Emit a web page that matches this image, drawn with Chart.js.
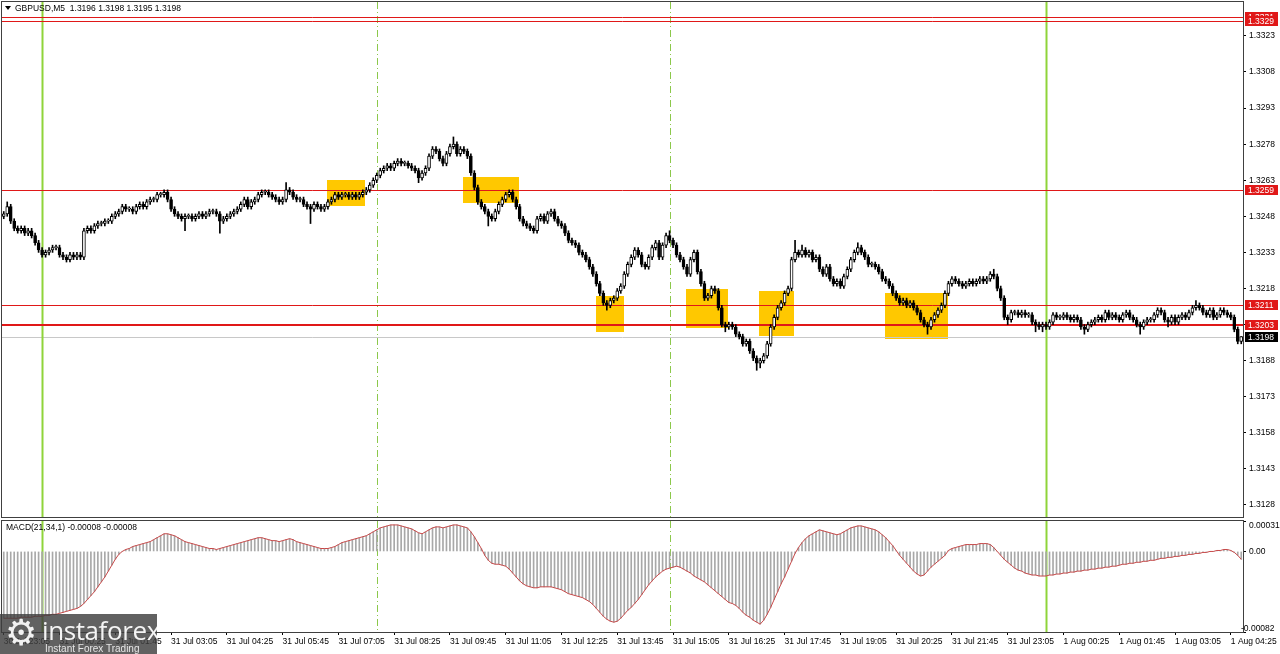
<!DOCTYPE html>
<html><head><meta charset="utf-8">
<script src="https://cdn.jsdelivr.net/npm/chart.js@4.4.1/dist/chart.umd.min.js"></script>
<style>
html,body{margin:0;padding:0;background:#fff;width:1280px;height:654px;overflow:hidden;font-family:"Liberation Sans",Arial,sans-serif}
#wrap{position:relative;width:1280px;height:654px}
#main{position:absolute;left:0;top:0}
#macd{position:absolute;left:0;top:519px}
#logo{position:absolute;left:0;top:614px;width:157px;height:40px;background:rgba(62,62,62,0.82);color:#fff;overflow:hidden}
#logo .gear{position:absolute;left:5px;top:-2px;font-family:"DejaVu Sans";font-size:36px;line-height:42px;color:#f2f2f2}
#logo .name{position:absolute;left:42px;top:2px;font-size:26px;line-height:28px;letter-spacing:-0.4px;color:#f4f4f4;font-family:"Open Sans","Liberation Sans",sans-serif}
#logo .sub{position:absolute;left:45px;top:29px;font-size:10px;line-height:11px;color:#e6e6e6}
</style></head>
<body><div id="wrap">
<canvas id="main" width="1280" height="519"></canvas>
<canvas id="macd" width="1280" height="135"></canvas>
<div id="logo"><span class="gear">⚙</span><span class="name">instaforex</span><span class="sub">Instant Forex Trading</span></div>
</div>
<script>
// ---------- DATA (GBPUSD M5, 30 Jul 23:05 ... 1 Aug 04:40) ----------
const opens = [
1.3248,1.3249,1.3252,1.3246,1.3243,1.3242,1.3243,1.3241,1.3242,1.3240,
1.3237,1.3234,1.3232,1.3233,1.3234,1.3235,1.3235,1.3232,1.3231,1.3230,
1.3232,1.3231,1.3232,1.3231,1.3242,1.3243,1.3242,1.3244,1.3245,1.3245,
1.3246,1.3246,1.3248,1.3249,1.3250,1.3252,1.3251,1.3251,1.3250,1.3252,
1.3253,1.3252,1.3254,1.3255,1.3255,1.3257,1.3257,1.3258,1.3255,1.3251,
1.3249,1.3248,1.3247,1.3248,1.3248,1.3247,1.3248,1.3249,1.3248,1.3249,
1.3250,1.3250,1.3249,1.3246,1.3247,1.3248,1.3249,1.3250,1.3251,1.3253,
1.3255,1.3252,1.3254,1.3255,1.3257,1.3258,1.3258,1.3257,1.3256,1.3255,
1.3254,1.3255,1.3259,1.3258,1.3256,1.3255,1.3255,1.3253,1.3252,1.3251,
1.3253,1.3252,1.3251,1.3252,1.3254,1.3255,1.3257,1.3256,1.3257,1.3257,
1.3256,1.3257,1.3256,1.3257,1.3258,1.3259,1.3261,1.3263,1.3265,1.3267,
1.3268,1.3269,1.3268,1.3270,1.3271,1.3270,1.3270,1.3269,1.3268,1.3267,
1.3264,1.3266,1.3268,1.3273,1.3276,1.3275,1.3272,1.3270,1.3274,1.3277,
1.3278,1.3274,1.3276,1.3275,1.3273,1.3266,1.3260,1.3254,1.3252,1.3250,
1.3248,1.3247,1.3250,1.3253,1.3255,1.3257,1.3258,1.3255,1.3252,1.3247,
1.3245,1.3244,1.3243,1.3242,1.3247,1.3248,1.3246,1.3249,1.3250,1.3247,
1.3245,1.3244,1.3241,1.3238,1.3237,1.3236,1.3233,1.3232,1.3230,1.3227,
1.3224,1.3220,1.3216,1.3212,1.3211,1.3213,1.3214,1.3217,1.3219,1.3224,
1.3228,1.3231,1.3234,1.3232,1.3228,1.3227,1.3231,1.3235,1.3237,1.3231,
1.3236,1.3240,1.3238,1.3236,1.3232,1.3230,1.3227,1.3224,1.3230,1.3233,
1.3225,1.3220,1.3214,1.3215,1.3218,1.3217,1.3210,1.3203,1.3202,1.3203,1.3202,
1.3199,1.3198,1.3195,1.3196,1.3192,1.3189,1.3187,1.3188,1.3190,1.3195,
1.3202,1.3206,1.3210,1.3212,1.3216,1.3218,1.3230,1.3233,1.3232,1.3234,
1.3232,1.3233,1.3230,1.3231,1.3226,1.3224,1.3227,1.3222,1.3220,1.3221,
1.3219,1.3223,1.3226,1.3230,1.3233,1.3235,1.3233,1.3231,1.3228,1.3228,
1.3227,1.3225,1.3222,1.3221,1.3219,1.3216,1.3214,1.3212,1.3213,1.3211,
1.3212,1.3210,1.3208,1.3205,1.3203,1.3202,1.3205,1.3207,1.3209,1.3211,
1.3216,1.3220,1.3222,1.3221,1.3220,1.3219,1.3220,1.3221,1.3220,1.3221,
1.3222,1.3221,1.3222,1.3224,1.3223,1.3218,1.3214,1.3206,1.3205,1.3208,
1.3208,1.3207,1.3208,1.3207,1.3207,1.3204,1.3203,1.3202,1.3203,1.3202,
1.3204,1.3207,1.3206,1.3206,1.3207,1.3206,1.3205,1.3206,1.3205,1.3202,
1.3201,1.3203,1.3204,1.3205,1.3206,1.3205,1.3208,1.3206,1.3207,1.3206,
1.3205,1.3207,1.3208,1.3206,1.3205,1.3203,1.3202,1.3204,1.3205,1.3205,
1.3207,1.3209,1.3208,1.3205,1.3204,1.3206,1.3204,1.3206,1.3207,1.3206,
1.3208,1.3210,1.3211,1.3210,1.3208,1.3207,1.3209,1.3206,1.3207,1.3209,
1.3208,1.3207,1.3206,1.3201,1.3196];

const highs = [
1.3250,1.3254,1.3253,1.3247,1.3244,1.3244,1.3244,1.3243,1.3243,1.3241,
1.3238,1.3235,1.3234,1.3235,1.3236,1.3236,1.3236,1.3233,1.3232,1.3233,
1.3233,1.3233,1.3233,1.3243,1.3244,1.3244,1.3245,1.3246,1.3246,1.3247,
1.3247,1.3249,1.3250,1.3251,1.3253,1.3253,1.3252,1.3252,1.3253,1.3254,
1.3254,1.3255,1.3256,1.3256,1.3258,1.3258,1.3259,1.3259,1.3256,1.3252,
1.3250,1.3249,1.3249,1.3249,1.3249,1.3249,1.3250,1.3250,1.3250,1.3251,
1.3251,1.3251,1.3250,1.3248,1.3249,1.3250,1.3251,1.3252,1.3254,1.3256,
1.3256,1.3255,1.3256,1.3258,1.3259,1.3259,1.3259,1.3258,1.3257,1.3256,
1.3256,1.3262,1.3260,1.3259,1.3257,1.3256,1.3256,1.3254,1.3253,1.3254,
1.3254,1.3253,1.3253,1.3255,1.3256,1.3258,1.3258,1.3258,1.3258,1.3258,
1.3258,1.3258,1.3258,1.3259,1.3260,1.3262,1.3264,1.3266,1.3268,1.3269,
1.3270,1.3270,1.3271,1.3272,1.3272,1.3271,1.3271,1.3270,1.3269,1.3268,
1.3267,1.3269,1.3274,1.3277,1.3277,1.3276,1.3273,1.3275,1.3278,1.3281,
1.3279,1.3277,1.3277,1.3276,1.3274,1.3267,1.3261,1.3255,1.3253,1.3251,
1.3249,1.3251,1.3254,1.3256,1.3258,1.3259,1.3259,1.3256,1.3253,1.3248,
1.3246,1.3245,1.3244,1.3248,1.3249,1.3249,1.3250,1.3251,1.3251,1.3248,
1.3246,1.3245,1.3242,1.3239,1.3238,1.3237,1.3234,1.3233,1.3231,1.3228,
1.3225,1.3221,1.3217,1.3213,1.3214,1.3215,1.3218,1.3220,1.3225,1.3229,
1.3232,1.3235,1.3235,1.3233,1.3229,1.3232,1.3236,1.3238,1.3238,1.3237,
1.3241,1.3242,1.3239,1.3237,1.3233,1.3231,1.3228,1.3231,1.3234,1.3234,
1.3226,1.3221,1.3216,1.3219,1.3219,1.3218,1.3211,1.3204,1.3204,1.3204,1.3203,
1.3200,1.3199,1.3197,1.3197,1.3193,1.3190,1.3189,1.3191,1.3196,1.3203,
1.3207,1.3211,1.3213,1.3217,1.3219,1.3231,1.3238,1.3234,1.3236,1.3235,
1.3234,1.3234,1.3232,1.3232,1.3227,1.3228,1.3228,1.3223,1.3222,1.3222,
1.3224,1.3227,1.3231,1.3234,1.3237,1.3236,1.3234,1.3232,1.3229,1.3229,
1.3228,1.3226,1.3223,1.3222,1.3220,1.3217,1.3215,1.3214,1.3214,1.3213,
1.3213,1.3211,1.3209,1.3206,1.3204,1.3206,1.3208,1.3210,1.3212,1.3217,
1.3221,1.3223,1.3223,1.3222,1.3221,1.3221,1.3222,1.3222,1.3222,1.3223,
1.3223,1.3223,1.3225,1.3226,1.3224,1.3219,1.3215,1.3207,1.3209,1.3209,
1.3209,1.3209,1.3209,1.3208,1.3208,1.3205,1.3204,1.3204,1.3204,1.3205,
1.3208,1.3208,1.3207,1.3208,1.3208,1.3207,1.3207,1.3207,1.3206,1.3203,
1.3204,1.3205,1.3206,1.3207,1.3207,1.3209,1.3209,1.3208,1.3208,1.3207,
1.3208,1.3209,1.3209,1.3207,1.3206,1.3204,1.3205,1.3206,1.3206,1.3208,
1.3210,1.3210,1.3209,1.3206,1.3207,1.3207,1.3207,1.3208,1.3208,1.3209,
1.3211,1.3213,1.3212,1.3211,1.3209,1.3210,1.3210,1.3208,1.3210,1.3210,
1.3209,1.3208,1.3207,1.3202,1.3198];

const lows = [
1.3247,1.3248,1.3245,1.3242,1.3241,1.3241,1.3240,1.3240,1.3239,1.3236,
1.3233,1.3231,1.3231,1.3232,1.3233,1.3234,1.3231,1.3230,1.3229,1.3229,
1.3230,1.3230,1.3230,1.3230,1.3241,1.3241,1.3241,1.3243,1.3244,1.3244,
1.3245,1.3245,1.3247,1.3248,1.3249,1.3250,1.3250,1.3249,1.3249,1.3251,
1.3251,1.3251,1.3253,1.3254,1.3254,1.3256,1.3256,1.3254,1.3250,1.3248,
1.3247,1.3246,1.3242,1.3247,1.3246,1.3246,1.3247,1.3247,1.3247,1.3248,
1.3249,1.3248,1.3241,1.3245,1.3246,1.3247,1.3248,1.3249,1.3250,1.3252,
1.3251,1.3251,1.3253,1.3254,1.3256,1.3257,1.3256,1.3255,1.3254,1.3253,
1.3253,1.3254,1.3257,1.3255,1.3254,1.3254,1.3252,1.3251,1.3245,1.3250,
1.3251,1.3250,1.3250,1.3251,1.3253,1.3254,1.3255,1.3255,1.3256,1.3255,
1.3255,1.3255,1.3255,1.3256,1.3257,1.3258,1.3260,1.3262,1.3264,1.3266,
1.3267,1.3267,1.3267,1.3269,1.3269,1.3269,1.3268,1.3267,1.3266,1.3262,
1.3263,1.3265,1.3267,1.3272,1.3274,1.3271,1.3269,1.3269,1.3273,1.3276,
1.3273,1.3273,1.3274,1.3272,1.3265,1.3259,1.3253,1.3251,1.3249,1.3244,
1.3246,1.3246,1.3249,1.3252,1.3254,1.3256,1.3254,1.3251,1.3246,1.3244,
1.3243,1.3242,1.3241,1.3241,1.3246,1.3245,1.3245,1.3248,1.3246,1.3244,
1.3243,1.3240,1.3237,1.3236,1.3235,1.3232,1.3231,1.3229,1.3226,1.3223,
1.3219,1.3215,1.3211,1.3209,1.3210,1.3212,1.3213,1.3216,1.3218,1.3223,
1.3227,1.3230,1.3231,1.3227,1.3226,1.3226,1.3230,1.3234,1.3230,1.3230,
1.3235,1.3237,1.3235,1.3231,1.3229,1.3226,1.3223,1.3223,1.3229,1.3224,
1.3219,1.3213,1.3213,1.3214,1.3216,1.3209,1.3202,1.3200,1.3201,1.3201,1.3198,
1.3197,1.3194,1.3194,1.3191,1.3188,1.3184,1.3185,1.3187,1.3189,1.3194,
1.3201,1.3205,1.3209,1.3211,1.3215,1.3217,1.3229,1.3231,1.3231,1.3231,
1.3231,1.3229,1.3229,1.3225,1.3223,1.3223,1.3221,1.3219,1.3219,1.3218,
1.3218,1.3222,1.3225,1.3229,1.3232,1.3232,1.3230,1.3227,1.3227,1.3226,
1.3224,1.3221,1.3220,1.3218,1.3215,1.3213,1.3211,1.3211,1.3210,1.3210,
1.3209,1.3207,1.3204,1.3202,1.3199,1.3201,1.3204,1.3206,1.3208,1.3210,
1.3215,1.3219,1.3220,1.3219,1.3218,1.3218,1.3219,1.3219,1.3219,1.3220,
1.3220,1.3220,1.3221,1.3222,1.3217,1.3213,1.3205,1.3203,1.3204,1.3207,
1.3206,1.3206,1.3206,1.3206,1.3203,1.3200,1.3201,1.3200,1.3201,1.3201,
1.3203,1.3205,1.3205,1.3205,1.3205,1.3204,1.3204,1.3204,1.3201,1.3199,
1.3200,1.3202,1.3203,1.3204,1.3204,1.3204,1.3205,1.3205,1.3205,1.3204,
1.3204,1.3206,1.3205,1.3204,1.3202,1.3199,1.3201,1.3203,1.3204,1.3204,
1.3206,1.3207,1.3204,1.3202,1.3203,1.3203,1.3203,1.3205,1.3205,1.3205,
1.3207,1.3209,1.3209,1.3207,1.3206,1.3206,1.3205,1.3205,1.3206,1.3207,
1.3206,1.3205,1.3200,1.3195,1.3195];

const closes = [
1.3249,1.3252,1.3246,1.3243,1.3242,1.3243,1.3241,1.3242,1.3240,1.3237,
1.3234,1.3232,1.3233,1.3234,1.3235,1.3235,1.3232,1.3231,1.3230,1.3232,
1.3231,1.3232,1.3231,1.3242,1.3243,1.3242,1.3244,1.3245,1.3245,1.3246,
1.3246,1.3248,1.3249,1.3250,1.3252,1.3251,1.3251,1.3250,1.3252,1.3253,
1.3252,1.3254,1.3255,1.3255,1.3257,1.3257,1.3258,1.3255,1.3251,1.3249,
1.3248,1.3247,1.3248,1.3248,1.3247,1.3248,1.3249,1.3248,1.3249,1.3250,
1.3250,1.3249,1.3246,1.3247,1.3248,1.3249,1.3250,1.3251,1.3253,1.3255,
1.3252,1.3254,1.3255,1.3257,1.3258,1.3258,1.3257,1.3256,1.3255,1.3254,
1.3255,1.3259,1.3258,1.3256,1.3255,1.3255,1.3253,1.3252,1.3251,1.3253,
1.3252,1.3251,1.3252,1.3254,1.3255,1.3257,1.3256,1.3257,1.3257,1.3256,
1.3257,1.3256,1.3257,1.3258,1.3259,1.3261,1.3263,1.3265,1.3267,1.3268,
1.3269,1.3268,1.3270,1.3271,1.3270,1.3270,1.3269,1.3268,1.3267,1.3264,
1.3266,1.3268,1.3273,1.3276,1.3275,1.3272,1.3270,1.3274,1.3277,1.3278,
1.3274,1.3276,1.3275,1.3273,1.3266,1.3260,1.3254,1.3252,1.3250,1.3248,
1.3247,1.3250,1.3253,1.3255,1.3257,1.3258,1.3255,1.3252,1.3247,1.3245,
1.3244,1.3243,1.3242,1.3247,1.3248,1.3246,1.3249,1.3250,1.3247,1.3245,
1.3244,1.3241,1.3238,1.3237,1.3236,1.3233,1.3232,1.3230,1.3227,1.3224,
1.3220,1.3216,1.3212,1.3211,1.3213,1.3214,1.3217,1.3219,1.3224,1.3228,
1.3231,1.3234,1.3232,1.3228,1.3227,1.3231,1.3235,1.3237,1.3231,1.3236,
1.3240,1.3238,1.3236,1.3232,1.3230,1.3227,1.3224,1.3230,1.3233,1.3225,
1.3220,1.3214,1.3215,1.3218,1.3217,1.3210,1.3203,1.3202,1.3203,1.3202,1.3199,
1.3198,1.3195,1.3196,1.3192,1.3189,1.3187,1.3188,1.3190,1.3195,1.3202,
1.3206,1.3210,1.3212,1.3216,1.3218,1.3230,1.3233,1.3232,1.3234,1.3232,
1.3233,1.3230,1.3231,1.3226,1.3224,1.3227,1.3222,1.3220,1.3221,1.3219,
1.3223,1.3226,1.3230,1.3233,1.3235,1.3233,1.3231,1.3228,1.3228,1.3227,
1.3225,1.3222,1.3221,1.3219,1.3216,1.3214,1.3212,1.3213,1.3211,1.3212,
1.3210,1.3208,1.3205,1.3203,1.3202,1.3205,1.3207,1.3209,1.3211,1.3216,
1.3220,1.3222,1.3221,1.3220,1.3219,1.3220,1.3221,1.3220,1.3221,1.3222,
1.3221,1.3222,1.3224,1.3223,1.3218,1.3214,1.3206,1.3205,1.3208,1.3208,
1.3207,1.3208,1.3207,1.3207,1.3204,1.3203,1.3202,1.3203,1.3202,1.3204,
1.3207,1.3206,1.3206,1.3207,1.3206,1.3205,1.3206,1.3205,1.3202,1.3201,
1.3203,1.3204,1.3205,1.3206,1.3205,1.3208,1.3206,1.3207,1.3206,1.3205,
1.3207,1.3208,1.3206,1.3205,1.3203,1.3202,1.3204,1.3205,1.3205,1.3207,
1.3209,1.3208,1.3205,1.3204,1.3206,1.3204,1.3206,1.3207,1.3206,1.3208,
1.3210,1.3211,1.3210,1.3208,1.3207,1.3209,1.3206,1.3207,1.3209,1.3208,
1.3207,1.3206,1.3201,1.3196,1.3198];

// MACD(21,34,1) main value per bar (signal with period 1 is identical)
const macdValues = [
-0.00068,-0.00068,-0.00068,-0.00068,-0.00068,-0.00067,-0.00067,-0.00067,-0.00067,-0.00066,
-0.00066,-0.00066,-0.00065,-0.00065,-0.00064,-0.00064,-0.00063,-0.00062,-0.00061,-0.00060,
-0.00059,-0.00058,-0.00056,-0.00053,-0.00049,-0.00045,-0.00041,-0.00036,-0.00031,-0.00026,
-0.00020,-0.00014,-0.00008,-0.00003,0.00000,0.00002,0.00003,0.00005,0.00006,0.00007,
0.00008,0.00009,0.00010,0.00012,0.00014,0.00016,0.00018,0.00018,0.00017,0.00016,
0.00014,0.00012,0.00010,0.00009,0.00008,0.00007,0.00006,0.00005,0.00004,0.00003,
0.00003,0.00002,0.00003,0.00004,0.00005,0.00006,0.00007,0.00008,0.00009,0.00010,
0.00011,0.00012,0.00013,0.00014,0.00014,0.00013,0.00012,0.00011,0.00011,0.00010,
0.00011,0.00012,0.00013,0.00012,0.00010,0.00009,0.00008,0.00007,0.00006,0.00005,
0.00004,0.00003,0.00003,0.00003,0.00004,0.00005,0.00007,0.00009,0.00010,0.00011,
0.00012,0.00013,0.00014,0.00015,0.00016,0.00018,0.00020,0.00022,0.00024,0.00025,
0.00026,0.00027,0.00027,0.00027,0.00026,0.00025,0.00024,0.00023,0.00021,0.00019,
0.00018,0.00020,0.00022,0.00024,0.00025,0.00025,0.00024,0.00025,0.00026,0.00027,
0.00027,0.00026,0.00025,0.00024,0.00020,0.00015,0.00009,0.00003,-0.00004,-0.00009,
-0.00012,-0.00013,-0.00013,-0.00014,-0.00015,-0.00018,-0.00022,-0.00026,-0.00030,-0.00033,
-0.00035,-0.00036,-0.00037,-0.00037,-0.00036,-0.00036,-0.00036,-0.00036,-0.00037,-0.00038,
-0.00039,-0.00041,-0.00043,-0.00044,-0.00045,-0.00046,-0.00047,-0.00049,-0.00051,-0.00054,
-0.00058,-0.00062,-0.00066,-0.00069,-0.00071,-0.00072,-0.00071,-0.00068,-0.00064,-0.00060,
-0.00057,-0.00053,-0.00049,-0.00044,-0.00039,-0.00034,-0.00030,-0.00026,-0.00023,-0.00020,
-0.00018,-0.00017,-0.00016,-0.00015,-0.00016,-0.00018,-0.00020,-0.00022,-0.00025,-0.00027,
-0.00029,-0.00031,-0.00034,-0.00037,-0.00040,-0.00043,-0.00046,-0.00049,-0.00052,-0.00053,-0.00055,
-0.00058,-0.00062,-0.00065,-0.00067,-0.00070,-0.00072,-0.00074,-0.00070,-0.00064,-0.00057,
-0.00049,-0.00041,-0.00033,-0.00026,-0.00018,-0.00010,-0.00002,0.00004,0.00009,0.00013,
0.00016,0.00018,0.00020,0.00022,0.00021,0.00020,0.00019,0.00018,0.00017,0.00018,
0.00020,0.00022,0.00024,0.00025,0.00026,0.00026,0.00025,0.00024,0.00023,0.00022,
0.00020,0.00017,0.00014,0.00010,0.00006,0.00001,-0.00004,-0.00008,-0.00012,-0.00016,
-0.00020,-0.00023,-0.00025,-0.00024,-0.00020,-0.00016,-0.00013,-0.00010,-0.00007,-0.00004,
0.00001,0.00003,0.00004,0.00005,0.00006,0.00007,0.00007,0.00007,0.00007,0.00008,
0.00008,0.00008,0.00007,0.00004,0.00000,-0.00004,-0.00008,-0.00011,-0.00014,-0.00017,
-0.00019,-0.00020,-0.00022,-0.00023,-0.00024,-0.00024,-0.00025,-0.00025,-0.00025,-0.00024,
-0.00024,-0.00023,-0.00023,-0.00022,-0.00022,-0.00021,-0.00021,-0.00020,-0.00020,-0.00019,
-0.00019,-0.00018,-0.00018,-0.00017,-0.00017,-0.00016,-0.00016,-0.00015,-0.00015,-0.00014,
-0.00013,-0.00013,-0.00012,-0.00012,-0.00011,-0.00011,-0.00010,-0.00010,-0.00009,-0.00009,
-0.00008,-0.00007,-0.00007,-0.00006,-0.00006,-0.00005,-0.00005,-0.00004,-0.00004,-0.00003,
-0.00003,-0.00002,-0.00002,-0.00001,-0.00001,0.00000,0.00000,0.00001,0.00001,0.00002,
0.00002,0.00001,-0.00001,-0.00004,-0.00008];

const tickLabels = ["30 Jul 23:05","31 Jul 00:25","31 Jul 01:45","31 Jul 03:05","31 Jul 04:25","31 Jul 05:45",
"31 Jul 07:05","31 Jul 08:25","31 Jul 09:45","31 Jul 11:05","31 Jul 12:25","31 Jul 13:45","31 Jul 15:05",
"31 Jul 16:25","31 Jul 17:45","31 Jul 19:05","31 Jul 20:25","31 Jul 21:45","31 Jul 23:05","1 Aug 00:25",
"1 Aug 01:45","1 Aug 03:05","1 Aug 04:25"];
const priceTicks = [1.3323,1.3308,1.3293,1.3278,1.3263,1.3248,1.3233,1.3218,1.3203,1.3188,1.3173,1.3158,1.3143,1.3128];
const levels = [1.3331,1.3329,1.3259,1.3211,1.3203];
const levelWidths = [1,1,1,1,2];
const currentPrice = 1.3198;
const sessionBars = [11,107,191,299];      // bar index of period separators
const sessionSolid = [true,false,false,true];
// yellow zones: [fromBar, toBar, topPrice, bottomPrice]
const boxes = [
 [92.6,103.6,1.32631,1.32523],
 [131.8,147.8,1.32642,1.32534],
 [169.8,177.7,1.32149,1.32000],
 [195.7,207.8,1.32178,1.32015],
 [216.7,226.8,1.32171,1.31983],
 [252.8,270.8,1.32163,1.31970]
];
const macdRange = [-0.00082, 0.00031];
const priceRange = [1.3123, 1.33371];

// categories (bar times)
const months=['Jan','Feb','Mar','Apr','May','Jun','Jul','Aug'];
const barTimes = opens.map((_,i)=>{
  const t = new Date(Date.UTC(2024,6,30,23,5) + i*300000);
  return t.getUTCDate()+' '+months[t.getUTCMonth()]+' '+String(t.getUTCHours()).padStart(2,'0')+':'+String(t.getUTCMinutes()).padStart(2,'0');
});

const FONT = '"Liberation Sans", Arial, sans-serif';

function drawSessions(chart){
  const {ctx, chartArea:a, scales:{x}} = chart;
  sessionBars.forEach((b,k)=>{
    const px = Math.round(x.getPixelForValue(b));
    ctx.save();
    if(sessionSolid[k]){ ctx.strokeStyle='#8fd43a'; ctx.lineWidth=2; ctx.setLineDash([]); }
    else { ctx.strokeStyle='#8cc84b'; ctx.lineWidth=1; ctx.setLineDash([7,3,1,3]); }
    ctx.beginPath(); ctx.moveTo(px+0.5,a.top); ctx.lineTo(px+0.5,a.bottom); ctx.stroke();
    ctx.restore();
  });
}
function frame(chart){
  const {ctx, chartArea:a} = chart;
  ctx.save(); ctx.strokeStyle='#404040'; ctx.lineWidth=1;
  ctx.strokeRect(Math.round(a.left)-0.5, Math.round(a.top)-0.5, Math.round(a.right-a.left)+1, Math.round(a.bottom-a.top)+1);
  ctx.restore();
}
function tag(ctx, yPix, text, bg){
  ctx.fillStyle=bg; ctx.fillRect(1245, Math.round(yPix)-5, 33, 10);
  ctx.fillStyle='#fff'; ctx.font='8.5px '+FONT; ctx.textBaseline='middle'; ctx.textAlign='left';
  ctx.fillText(text, 1248, Math.round(yPix)+0.5);
}

const mainDecor = {
  id:'mainDecor',
  beforeDatasetsDraw(chart){
    const {ctx, chartArea:a, scales:{x,y}} = chart;
    ctx.save();
    ctx.beginPath(); ctx.rect(a.left,a.top,a.right-a.left,a.bottom-a.top); ctx.clip();
    ctx.fillStyle='#ffc800';
    boxes.forEach(b=>{
      const x0=x.getPixelForValue(b[0]), x1=x.getPixelForValue(b[1]);
      const y0=y.getPixelForValue(b[2]), y1=y.getPixelForValue(b[3]);
      ctx.fillRect(Math.round(x0),Math.round(y0),Math.round(x1-x0),Math.round(y1-y0));
    });
    const yc = Math.round(y.getPixelForValue(currentPrice));
    ctx.strokeStyle='#c8c8c8'; ctx.lineWidth=1;
    ctx.beginPath(); ctx.moveTo(a.left,yc+0.5); ctx.lineTo(a.right,yc+0.5); ctx.stroke();
    drawSessions(chart);
    levels.forEach((lv,k)=>{
      const yy = Math.round(y.getPixelForValue(lv));
      const off = levelWidths[k]===1 ? 0.5 : 0;
      ctx.strokeStyle='#e01818'; ctx.lineWidth=levelWidths[k];
      ctx.beginPath(); ctx.moveTo(a.left, yy+off); ctx.lineTo(a.right, yy+off); ctx.stroke();
    });
    ctx.restore();
  },
  afterDraw(chart){
    const {ctx, scales:{y}} = chart;
    frame(chart);
    ctx.save();
    levels.forEach(lv=> tag(ctx, y.getPixelForValue(lv), lv.toFixed(4), '#e01818'));
    tag(ctx, y.getPixelForValue(currentPrice), currentPrice.toFixed(4), '#000');
    ctx.fillStyle='#000'; ctx.font='8.5px '+FONT; ctx.textBaseline='middle'; ctx.textAlign='left';
    ctx.beginPath(); ctx.moveTo(5,6); ctx.lineTo(11,6); ctx.lineTo(8,10); ctx.closePath(); ctx.fill();
    ctx.fillText('GBPUSD,M5  1.3196 1.3198 1.3195 1.3198', 15, 8.5);
    ctx.restore();
  }
};

const macdDecor = {
  id:'macdDecor',
  beforeDatasetsDraw(chart){ drawSessions(chart); },
  afterDraw(chart){
    const {ctx, scales:{y}} = chart;
    frame(chart);
    ctx.save();
    ctx.fillStyle='#000'; ctx.font='8.5px '+FONT; ctx.textBaseline='middle'; ctx.textAlign='left';
    ctx.fillText('MACD(21,34,1) -0.00008 -0.00008', 6, 8.5);
    ctx.fillText('0.00031', 1249, y.getPixelForValue(macdRange[1])+4.5);
    ctx.fillText('0.00', 1249, y.getPixelForValue(0)+0.5);
    ctx.fillText('-0.00082', 1241, y.getPixelForValue(macdRange[0])-3.5);
    ctx.restore();
  }
};

Chart.defaults.font.family = FONT;
Chart.defaults.font.size = 8.5;
Chart.defaults.color = '#000';

new Chart(document.getElementById('main'), {
  type:'bar',
  data:{ labels: barTimes, datasets:[
    { label:'wick', data: lows.map((l,i)=>[l, highs[i]]), backgroundColor:'#000', barThickness:1, grouped:false, order:2 },
    { label:'body', data: opens.map((o,i)=>[o, closes[i]]),
      backgroundColor: c => closes[c.dataIndex] >= opens[c.dataIndex] ? '#ffffff' : '#000000',
      borderColor:'#000', borderWidth:1, borderSkipped:false, barThickness:3, minBarLength:1, grouped:false, order:1 }
  ]},
  options:{
    responsive:false, animation:false, events:[],
    layout:{padding:{left:2, top:2, bottom:2, right:0}},
    plugins:{legend:{display:false}, tooltip:{enabled:false}},
    scales:{
      x:{ display:false, offset:true },
      y:{ position:'right', min:priceRange[0], max:priceRange[1],
          afterFit(s){ s.width = 37; s.paddingTop = 0; s.paddingBottom = 0; },
          afterBuildTicks(s){ s.ticks = priceTicks.map(v=>({value:v})); },
          ticks:{ callback:v=>Number(v).toFixed(4), padding:3, color:'#000', font:{size:8.5} },
          grid:{ drawOnChartArea:false, tickLength:3, color:'#000' },
          border:{ color:'#404040' } }
    }
  },
  plugins:[mainDecor]
});

new Chart(document.getElementById('macd'), {
  type:'bar',
  data:{ labels: barTimes, datasets:[
    { type:'line', data: macdValues, borderColor:'#c84848', borderWidth:1, pointRadius:0, tension:0, order:1 },
    { type:'bar', data: macdValues, backgroundColor:'#a8a8a8', barThickness:1, order:2 }
  ]},
  options:{
    responsive:false, animation:false, events:[],
    layout:{padding:{left:2, top:2, bottom:0, right:0}},
    plugins:{legend:{display:false}, tooltip:{enabled:false}},
    scales:{
      x:{ offset:true,
          afterFit(s){ s.height = 22; },
          afterBuildTicks(s){ s.ticks = s.ticks.filter(t=>t.value % 16 === 0); },
          ticks:{ autoSkip:false, maxRotation:0, minRotation:0, align:'start', padding:2,
                  callback:(v)=> tickLabels[v/16] || '', font:{size:8.5}, color:'#000' },
          grid:{ drawOnChartArea:false, tickLength:3, color:'#000', offset:false },
          border:{ color:'#404040' } },
      y:{ position:'right', min:macdRange[0], max:macdRange[1],
          afterFit(s){ s.width = 37; s.paddingTop = 0; s.paddingBottom = 0; },
          afterBuildTicks(s){ s.ticks = [{value:macdRange[0]},{value:0},{value:macdRange[1]}]; },
          ticks:{ display:false },
          grid:{ drawOnChartArea:false, tickLength:3, color:'#000' },
          border:{ color:'#404040' } }
    }
  },
  plugins:[macdDecor]
});
</script>
</body></html>
